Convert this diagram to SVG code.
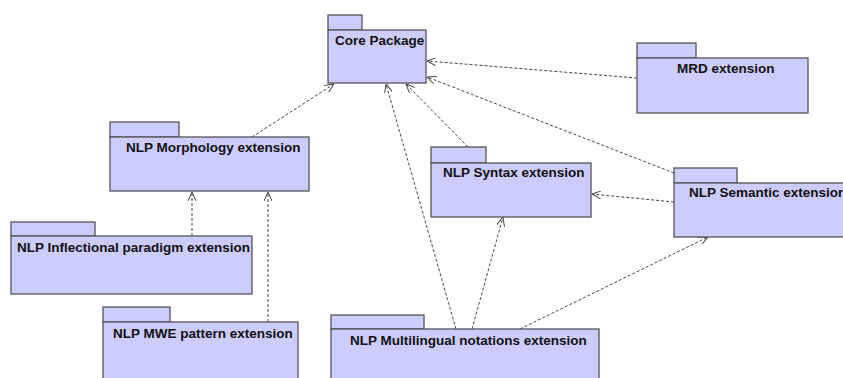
<svg xmlns="http://www.w3.org/2000/svg" width="843" height="378" viewBox="0 0 843 378">
  <defs>
    <marker id="open" viewBox="0 0 9 8" refX="9" refY="4" markerWidth="9" markerHeight="8" markerUnits="userSpaceOnUse" orient="auto">
      <path d="M0,0 L9,4 L0,8" fill="none" stroke="#444" stroke-width="1"/>
    </marker>
  </defs>
  <style>
    .pkg rect { fill: #ccccff; stroke: #555; stroke-width: 1.3; }
    .pkg text { font-family: "Liberation Sans", Arial, sans-serif; font-weight: bold; font-size: 13.5px; fill: #111; }
    .dep line { stroke: #444; stroke-width: 1; stroke-dasharray: 3 2; fill: none; marker-end: url(#open); }
  </style>
  <rect width="843" height="378" fill="#ffffff"/>

  <!-- dependency connectors -->
  <g id="connectors" class="dep">
    <line x1="252" y1="137" x2="334" y2="84"/>
    <line x1="637" y1="78" x2="427" y2="61"/>
    <line x1="468" y1="147" x2="406" y2="84"/>
    <line x1="456" y1="329" x2="386" y2="84"/>
    <line x1="674" y1="173" x2="427" y2="77"/>
    <line x1="674" y1="202" x2="592" y2="194"/>
    <line x1="472" y1="329" x2="503" y2="217"/>
    <line x1="520" y1="329" x2="708" y2="237"/>
    <line x1="192" y1="236" x2="192" y2="192"/>
    <line x1="268" y1="322" x2="268" y2="192"/>
  </g>

  <g id="core" class="pkg">
    <rect x="328" y="15" width="34" height="15"/>
    <rect x="328" y="30" width="98" height="53"/>
    <text x="335" y="45">Core Package</text>
  </g>

  <g id="mrd" class="pkg">
    <rect x="637" y="43" width="59" height="15"/>
    <rect x="637" y="58" width="171" height="55"/>
    <text x="677" y="73">MRD extension</text>
  </g>

  <g id="morphology" class="pkg">
    <rect x="110" y="122" width="69" height="15"/>
    <rect x="110" y="137" width="199" height="54"/>
    <text x="126" y="152">NLP Morphology extension</text>
  </g>

  <g id="inflectional" class="pkg">
    <rect x="11" y="222" width="84" height="14"/>
    <rect x="11" y="236" width="241" height="58"/>
    <text x="17" y="252">NLP Inflectional paradigm extension</text>
  </g>

  <g id="syntax" class="pkg">
    <rect x="431" y="147" width="55" height="16"/>
    <rect x="431" y="163" width="160" height="54"/>
    <text x="443" y="177">NLP Syntax extension</text>
  </g>

  <g id="semantic" class="pkg">
    <rect x="674" y="168" width="63" height="15"/>
    <rect x="674" y="183" width="180" height="54"/>
    <text x="689" y="197">NLP Semantic extension</text>
  </g>

  <g id="mwe" class="pkg">
    <rect x="103" y="307" width="67" height="15"/>
    <rect x="103" y="322" width="195" height="70"/>
    <text x="113" y="338">NLP MWE pattern extension</text>
  </g>

  <g id="multilingual" class="pkg">
    <rect x="331" y="315" width="93" height="14"/>
    <rect x="331" y="329" width="268" height="60"/>
    <text x="350" y="345">NLP Multilingual notations extension</text>
  </g>
</svg>
